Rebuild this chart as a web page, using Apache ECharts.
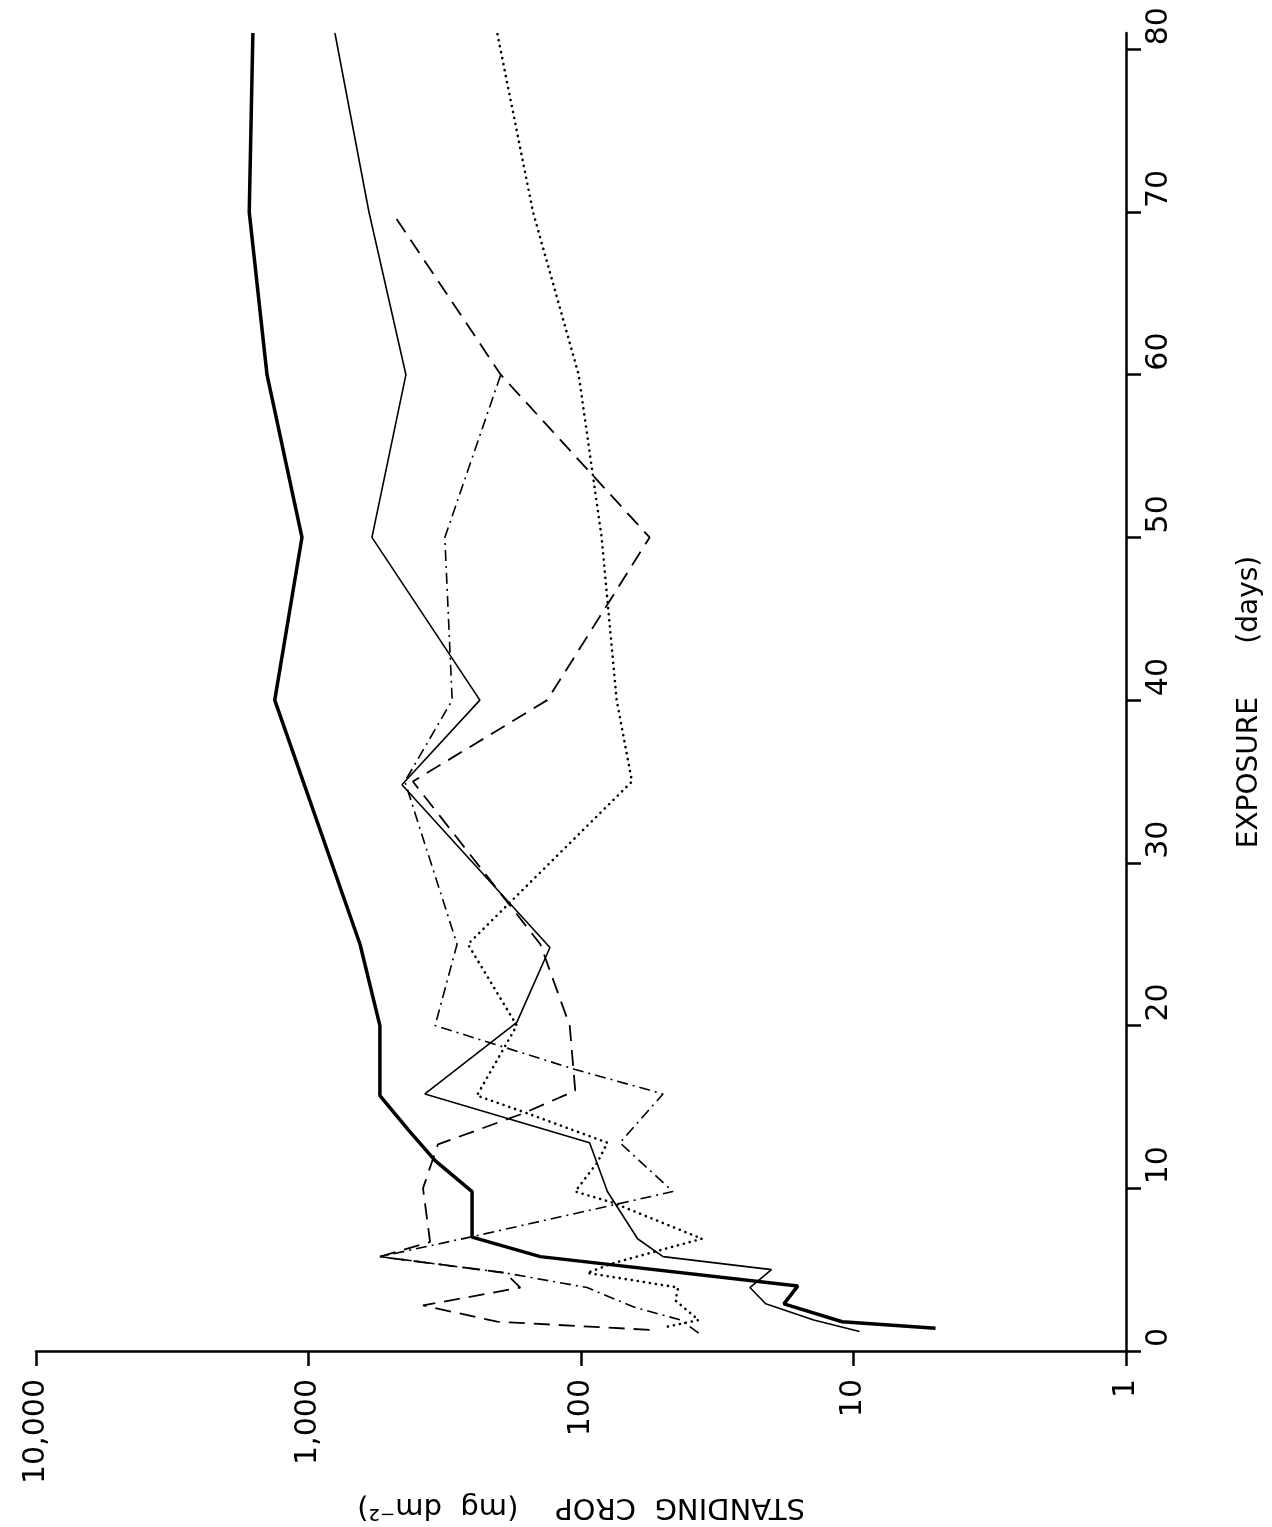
<!DOCTYPE html>
<html>
<head>
<meta charset="utf-8">
<title>Standing crop vs exposure</title>
<script src="https://cdn.jsdelivr.net/npm/echarts@6/dist/echarts.min.js"></script>
<style>
  html, body { margin: 0; padding: 0; background: #fff; }
  #main { width: 1272px; height: 1527px; }
</style>
</head>
<body>
<div id="main"></div>
<script>
// figure is printed turned on its side: exposure runs up the right edge,
// standing crop (log) runs right-to-left along the bottom

// tick labels
const dayTicks = [0, 10, 20, 30, 40, 50, 60, 70, 80];
const cropTickLabels = { 1: '1', 10: '10', 100: '100', 1000: '1,000', 10000: '10,000' };

// heavy solid line
const heavyDays = [1.4, 1.8, 2.9, 4.0, 5.8, 7, 9.8, 11.7, 13.6, 15.7, 20, 25, 40, 50, 60, 70, 81];
const heavyCrop = [5, 11, 18, 16, 141, 251, 251, 343, 431, 547, 547, 647, 1330, 1057, 1420, 1650, 1600];

// thin solid line
const thinDays = [1.2, 1.9, 2.9, 3.9, 5.0, 5.8, 6.9, 9.8, 12.8, 15.8, 20.2, 24.8, 34.8, 40, 50, 60, 70, 81];
const thinCrop = [9.5, 14, 21, 24, 20, 50, 62, 80, 93, 374, 172, 130, 454, 235, 585, 439, 600, 800];

// long dashes
const dashDays = [1.3, 1.8, 2.8, 3.9, 4.8, 5.8, 6.7, 10, 12.7, 14.6, 16, 20, 25, 35, 40, 50, 60, 70];
const dashCrop = [56, 203, 380, 167, 190, 547, 358, 380, 335, 163, 105, 110, 141, 414, 133, 56, 197, 494];

// dash-dot
const dashDotDays = [1.1, 1.9, 2.7, 3.9, 4.8, 5.8, 7, 9.8, 12.8, 15.8, 17.3, 20, 25, 35, 40, 50, 60];
const dashDotCrop = [37, 43, 64, 95, 190, 547, 255, 46, 72, 50, 105, 343, 285, 443, 297, 316, 197];

// dotted
const dotDays = [1.5, 1.9, 3.1, 3.9, 4.8, 5.4, 6.9, 9.1, 9.8, 11.6, 12.8, 14.7, 15.7, 20, 25, 35, 40, 50, 60, 70, 81];
const dotCrop = [48, 37, 45, 44, 95, 76, 36, 76, 105, 87, 80, 163, 241, 172, 260, 65, 74, 84, 102, 150, 203];

function pairs(days, crop) {
  return days.map((d, i) => [crop[i], d]);
}

const font = 'DejaVu Sans';

function line(name, days, crop, lineStyle) {
  return {
    name: name,
    type: 'line',
    data: pairs(days, crop),
    showSymbol: false,
    symbol: 'none',
    clip: false,
    lineStyle: Object.assign({ color: '#000' }, lineStyle)
  };
}

const chart = echarts.init(document.getElementById('main'));
chart.setOption({
  animation: false,
  backgroundColor: '#fff',
  grid: { left: 36, right: 146, top: 33, bottom: 176, containLabel: false },
  xAxis: {
    type: 'log',
    logBase: 10,
    min: 1,
    max: 10000,
    inverse: true,
    position: 'bottom',
    name: 'STANDING  CROP    (mg  dm\u207B\u00B2)',
    nameLocation: 'middle',
    nameRotate: 180,
    nameGap: 128,
    nameTextStyle: { fontFamily: font, fontSize: 29, color: '#000' },
    axisLine: { lineStyle: { color: '#000', width: 2.5 } },
    axisTick: { inside: false, length: 15, lineStyle: { color: '#000', width: 2.5 } },
    minorTick: { show: false },
    splitLine: { show: false },
    axisLabel: {
      rotate: 90,
      margin: 28,
      padding: [0, 0, 16, 0],
      fontFamily: font,
      fontSize: 30,
      color: '#000',
      formatter: v => cropTickLabels[Math.round(v)] || ''
    }
  },
  yAxis: {
    type: 'value',
    min: 0,
    max: 81,
    position: 'right',
    name: 'EXPOSURE      (days)',
    nameLocation: 'middle',
    nameRotate: 90,
    nameGap: 110,
    nameTextStyle: { fontFamily: font, fontSize: 28, color: '#000', padding: [0, 20, 0, 0] },
    axisLine: { lineStyle: { color: '#000', width: 2.5 } },
    axisTick: { inside: false, length: 15, customValues: dayTicks, lineStyle: { color: '#000', width: 2.5 } },
    splitLine: { show: false },
    axisLabel: {
      rotate: 90,
      margin: 18,
      align: 'left',
      padding: [0, 0, 0, 4],
      customValues: dayTicks,
      fontFamily: font,
      fontSize: 30,
      color: '#000'
    }
  },
  series: [
    line('heavy', heavyDays, heavyCrop, { width: 3.5, type: 'solid' }),
    line('thin', thinDays, thinCrop, { width: 1.6, type: 'solid' }),
    line('dashed', dashDays, dashCrop, { width: 1.8, type: [16, 9] }),
    line('dash-dot', dashDotDays, dashDotCrop, { width: 1.6, type: [11, 5, 2, 5] }),
    line('dotted', dotDays, dotCrop, { width: 2.6, type: [0.1, 6], cap: 'round' })
  ]
});
</script>
</body>
</html>
